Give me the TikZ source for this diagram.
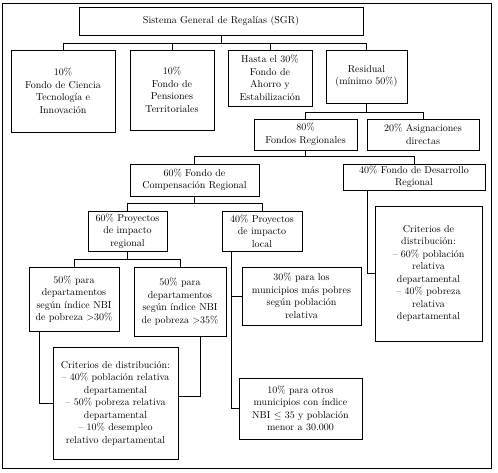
\documentclass[tikz,border=0pt]{standalone}
\begin{document}
\begin{tikzpicture}[x=1pt, y=-1pt, line width=.8pt,
        bx/.style={draw, align=center, inner sep=.5pt, font=\fontsize{10}{12.5}\selectfont}
      ]
      \useasboundingbox (0, 0) rectangle (498, 472);
      \draw (2, 3) rectangle (491, 468);

      % top level
      \node[bx, minimum width=284, minimum height=28] at (221, 21) (sgr) {Sistema General de Regalías (SGR)};
      \node[bx, minimum width=104, minimum height=82] at (63, 91) (fcti) {10\%\\Fondo de Ciencia\\Tecnología e\\Innovación};
      \node[bx, minimum width=84, minimum height=80] at (172, 90) (fpt) {10\%\\Fondo de\\Pensiones\\Territoriales};
      \node[bx, minimum width=84, minimum height=56] at (270, 78) (fae) {Hasta el 30\%\\Fondo de\\Ahorro y\\Estabilización};
      \node[bx, minimum width=81, minimum height=53] at (366.5, 76.5) (res) {Residual\\(mínimo 50\%)};
      % edges
      \coordinate (b1) at (221, 43);
      \draw (sgr) -- (b1);
      \draw (b1) -| (fcti);
      \draw (b1) -| (fpt);
      \draw (b1) -| (fae);
      \draw (b1) -| (res);

      % residual
      \node[bx, minimum width=103, minimum height=31] at (305.5, 134.5) (freg) {80\%\\Fondos Regionales};
      \node[bx, minimum width=112, minimum height=31] at (423, 134.5) (asig) {20\% Asignaciones\\directas};
      \node[bx, minimum width=129, minimum height=32] at (194.5, 180) (fcr) {60\% Fondo de\\Compensación Regional};
      \node[bx, minimum width=142, minimum height=26] at (414, 177) (fdr) {40\% Fondo de Desarrollo\\Regional};
      % edges
      \coordinate (b2) at (366.5, 112);
      \coordinate (b3) at (305.5, 156);
      \draw (res) -- (b2);
      \draw (b2) -| (freg);
      \draw (b2) -| (asig);
      \draw (freg) -- (b3);
      \draw (b3) -| (fcr);
      \draw (b3) -| (fdr);

      % compensation fund
      \node[bx, minimum width=79, minimum height=40] at (127.5, 231) (preg) {60\% Proyectos\\de impacto\\regional};
      \node[bx, minimum width=80, minimum height=40] at (262, 231) (ploc) {40\% Proyectos\\de impacto\\local};
      \node[bx, minimum width=90, minimum height=64] at (74, 299) (d30) {50\% para\\departamentos\\según índice NBI\\de pobreza \textgreater30\%};
      \node[bx, minimum width=92, minimum height=69] at (180, 301.5) (d35) {50\% para\\departamentos\\según índice NBI\\de pobreza \textgreater35\%};
      \node[bx, minimum width=125, minimum height=112] at (115.5, 403) (crita) {Criterios de distribución:\\-- 40\% población relativa\\departamental\\-- 50\% pobreza relativa\\departamental\\-- 10\% desempleo\\relativo departamental};
      \node[bx, minimum width=119, minimum height=58] at (301.5, 296) (m30) {30\% para los\\municipios más pobres\\según población\\relativa};
      \node[bx, minimum width=123, minimum height=61] at (300.5, 408.5) (m10) {10\% para otros\\municipios con índice\\NBI $\leq$ 35 y población\\menor a 30.000};
      % edges
      \coordinate (b4) at (194.5, 203);
      \coordinate (b5) at (127.5, 259);
      \draw (fcr) -- (b4);
      \draw (b4) -| (preg);
      \draw (b4) -| (ploc);
      \draw (preg) -- (b5);
      \draw (b5) -| (d30);
      \draw (b5) -| (d35);
      \draw ([xshift=-35]d30.south) |- (crita.west);
      \draw ([xshift=20]d35.south) |- ([yshift=7]crita.east);
      \draw ([xshift=10]ploc.south west) |- (m30.west);
      \draw ([xshift=10]ploc.south west) |- (m10.west);

      % development fund
      \node[bx, minimum width=107, minimum height=135] at (428.5, 273.5) (critb) {Criterios de\\distribución:\\-- 60\% población\\relativa\\departamental\\-- 40\% pobreza\\relativa\\departamental};
      \draw ([xshift=25]fdr.south west) |- (critb.west);
  \end{tikzpicture}
\end{document}
